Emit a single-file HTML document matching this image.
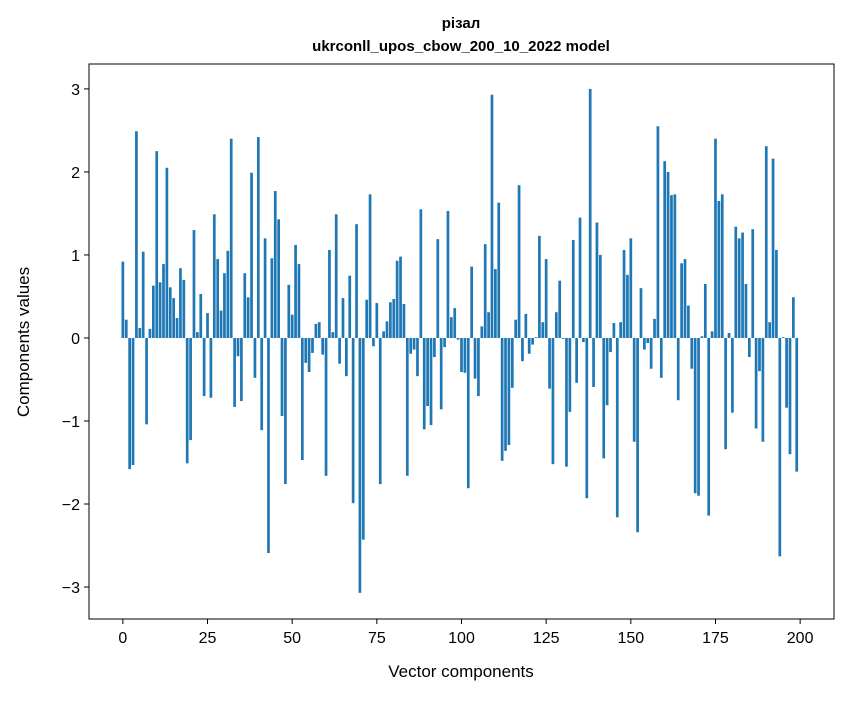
<!DOCTYPE html>
<html><head><meta charset="utf-8"><style>
body{margin:0;background:#fff;}
svg text{font-family:"Liberation Sans","DejaVu Sans",sans-serif;fill:#000;}
</style></head><body>
<svg id="chart" width="847" height="696" viewBox="0 0 847 696" xmlns="http://www.w3.org/2000/svg">
<rect width="847" height="696" fill="#fff"/>
<text x="461" y="28" text-anchor="middle" font-size="15" font-weight="bold">різал</text>
<text x="461" y="51" text-anchor="middle" font-size="15" font-weight="bold">ukrconll_upos_cbow_200_10_2022 model</text>
<g id="bars"></g>
<g id="xticks"></g>
<g id="yticks"></g>
<rect x="89" y="64" width="745" height="555" fill="none" stroke="#000" stroke-width="1"/>
<text x="461" y="677" text-anchor="middle" font-size="17">Vector components</text>
<text transform="translate(29,342) rotate(-90)" text-anchor="middle" font-size="17">Components values</text>
</svg>
<script>
const values = [0.92,0.22,-1.58,-1.53,2.49,0.12,1.04,-1.04,0.11,0.63,
2.25,0.67,0.89,2.05,0.61,0.48,0.24,0.84,0.70,-1.51,
-1.23,1.30,0.07,0.53,-0.70,0.30,-0.72,1.49,0.95,0.33,
0.78,1.05,2.40,-0.83,-0.22,-0.76,0.78,0.49,1.99,-0.48,
2.42,-1.11,1.20,-2.59,0.96,1.77,1.43,-0.94,-1.76,0.64,
0.28,1.12,0.89,-1.47,-0.30,-0.41,-0.18,0.17,0.19,-0.20,
-1.66,1.06,0.07,1.49,-0.31,0.48,-0.46,0.75,-1.99,1.37,
-3.07,-2.43,0.46,1.73,-0.10,0.42,-1.76,0.08,0.20,0.43,
0.47,0.93,0.98,0.41,-1.66,-0.19,-0.14,-0.46,1.55,-1.10,
-0.82,-1.05,-0.23,1.19,-0.86,-0.11,1.53,0.25,0.36,-0.02,
-0.41,-0.42,-1.81,0.86,-0.49,-0.70,0.14,1.13,0.31,2.93,
0.83,1.63,-1.48,-1.36,-1.29,-0.60,0.22,1.84,-0.28,0.29,
-0.19,-0.08,0.01,1.23,0.19,0.95,-0.61,-1.52,0.31,0.69,
-0.01,-1.55,-0.89,1.18,-0.54,1.45,-0.05,-1.93,3.00,-0.59,
1.39,1.00,-1.45,-0.81,-0.17,0.18,-2.16,0.19,1.06,0.76,
1.20,-1.25,-2.34,0.60,-0.14,-0.06,-0.37,0.23,2.55,-0.48,
2.13,2.00,1.72,1.73,-0.75,0.90,0.95,0.39,-0.37,-1.87,
-1.90,0.02,0.65,-2.14,0.08,2.40,1.65,1.73,-1.34,0.06,
-0.90,1.34,1.20,1.27,0.65,-0.23,1.31,-1.09,-0.40,-1.25,
2.31,0.19,2.16,1.06,-2.63,0.01,-0.84,-1.40,0.49,-1.61];
const xTicks = [0,25,50,75,100,125,150,175,200];
const yTicks = [-3,-2,-1,0,1,2,3];
const yTickLabels = ["\u22123","\u22122","\u22121","0","1","2","3"];

const NS = "http://www.w3.org/2000/svg";
const L=89,R=834,T=64,B=619;
const xMin=-10,xMax=210,yMin=-3.385,yMax=3.30;
function sx(v){return L+(v-xMin)/(xMax-xMin)*(R-L);}
function sy(v){return B-(v-yMin)/(yMax-yMin)*(B-T);}
const bars=document.getElementById('bars');
values.forEach((v,i)=>{
  const r=document.createElementNS(NS,'rect');
  const x0=sx(i-0.4),x1=sx(i+0.4);
  const y0=sy(Math.max(v,0)),y1=sy(Math.min(v,0));
  r.setAttribute('x',x0);r.setAttribute('width',x1-x0);
  r.setAttribute('y',y0);r.setAttribute('height',Math.max(y1-y0,0.3));
  r.setAttribute('fill','#1f77b4');
  
  
  bars.appendChild(r);
});
const xg=document.getElementById('xticks');
xTicks.forEach(t=>{
  const l=document.createElementNS(NS,'line');
  l.setAttribute('x1',sx(t));l.setAttribute('x2',sx(t));
  l.setAttribute('y1',B);l.setAttribute('y2',B+5);l.setAttribute('stroke','#000');
  
  
  xg.appendChild(l);
  const tx=document.createElementNS(NS,'text');
  tx.setAttribute('x',sx(t));tx.setAttribute('y',B+24);
  tx.setAttribute('text-anchor','middle');tx.setAttribute('font-size','16');
  tx.textContent=t;
  
  
  xg.appendChild(tx);
});
const yg=document.getElementById('yticks');
yTicks.forEach((t,i)=>{
  const l=document.createElementNS(NS,'line');
  l.setAttribute('x1',L-5);l.setAttribute('x2',L);
  l.setAttribute('y1',sy(t));l.setAttribute('y2',sy(t));l.setAttribute('stroke','#000');
  
  
  yg.appendChild(l);
  const tx=document.createElementNS(NS,'text');
  tx.setAttribute('x',L-9);tx.setAttribute('y',sy(t)+6);
  tx.setAttribute('text-anchor','end');tx.setAttribute('font-size','16');
  tx.textContent=yTickLabels[i];
  
  
  yg.appendChild(tx);
});
</script>
</body></html>
